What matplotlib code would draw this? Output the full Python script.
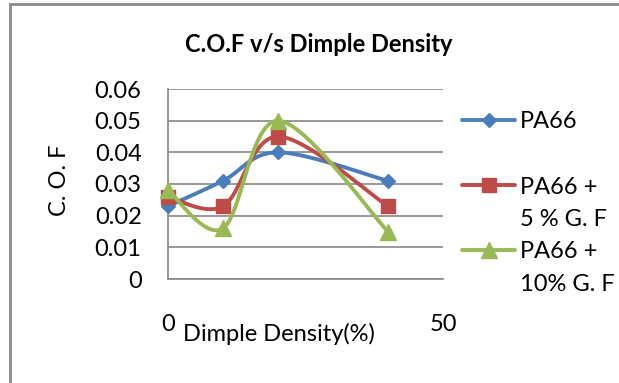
import numpy as np
import matplotlib
matplotlib.use("Agg")
import matplotlib.pyplot as plt
from matplotlib.lines import Line2D
from matplotlib.patches import Rectangle

plt.rcParams['font.family'] = ['Lato', 'DejaVu Sans']

# Data
density = [0, 10, 20, 40]
cof_pa66 = [0.023, 0.031, 0.040, 0.031]
cof_gf5 = [0.026, 0.023, 0.045, 0.023]
cof_gf10 = [0.028, 0.016, 0.050, 0.015]

series_labels = ["PA66", "PA66 +\n5 % G. F", "PA66 +\n10% G. F"]
series_colors = ["#4A7EBB", "#BE4B48", "#98B954"]
series_markers = ["D", "s", "^"]
marker_sizes = [7.5, 10, 11]

GRID = "#868686"
FS = 17


def excel_smooth(ax, xs, ys, n=40):
    """Bezier smoothing like Excel's 'smoothed line', done in pixel space."""
    pts = ax.transData.transform(np.column_stack([xs, ys]))
    out = [pts[:1]]
    for i in range(len(pts) - 1):
        p0 = pts[i - 1] if i > 0 else pts[i]
        p1, p2 = pts[i], pts[i + 1]
        p3 = pts[i + 2] if i + 2 < len(pts) else pts[i + 1]
        c1 = p1 + (p2 - p0) / 6
        c2 = p2 - (p3 - p1) / 6
        t = np.linspace(0, 1, n)[1:, None]
        seg = ((1 - t) ** 3 * p1 + 3 * (1 - t) ** 2 * t * c1
               + 3 * (1 - t) * t ** 2 * c2 + t ** 3 * p2)
        out.append(seg)
    return ax.transData.inverted().transform(np.vstack(out))


fig = plt.figure(figsize=(6.19, 3.83), dpi=100)
W, H = 619, 383

# outer chart frame (only left/top edges visible in the crop)
fig.add_artist(Rectangle((9.5 / W, -0.2), 1.5, 1.2 - 4 / H, transform=fig.transFigure,
                         fill=False, edgecolor="#8c8c8c", linewidth=2))

ax = fig.add_axes([168 / W, 1 - 279 / H, (443 - 168) / W, (279 - 89) / H])
ax.set_xlim(0, 50)
ax.set_ylim(0, 0.06)
ax.set_yticks(np.arange(0, 0.061, 0.01))
ax.set_yticklabels(["0", "0.01", "0.02", "0.03", "0.04", "0.05", "0.06"])
ax.set_xticks([0, 50])
ax.set_xticklabels(["0", "50"])
ax.tick_params(axis="both", length=0, labelsize=FS)
ax.tick_params(axis="y", pad=19)
ax.tick_params(axis="x", pad=25)
ax.grid(axis="y", color=GRID, linewidth=1.2)
ax.set_axisbelow(True)
for side in ["top", "right"]:
    ax.spines[side].set_visible(False)
for side in ["left", "bottom"]:
    ax.spines[side].set_color(GRID)
    ax.spines[side].set_linewidth(1.2)

all_series = [cof_pa66, cof_gf5, cof_gf10]
for k, ys in enumerate(all_series):
    curve = excel_smooth(ax, density, ys)
    ax.plot(curve[:, 0], curve[:, 1], color=series_colors[k], linewidth=2.8,
            solid_capstyle="round", zorder=3 + 2 * k, clip_on=False)
    ax.plot(density, ys, linestyle="none", marker=series_markers[k],
            markersize=marker_sizes[k], color=series_colors[k],
            zorder=4 + 2 * k, clip_on=False)

fig.text(319 / W, 1 - 44 / H, "C.O.F v/s Dimple Density", ha="center", va="center",
         fontsize=FS, fontweight="bold")
fig.text(60 / W, 1 - 180 / H, "C. O. F", rotation=90, ha="center", va="center", fontsize=FS)
fig.text(279 / W, 1 - 334 / H, "Dimple Density(%)", ha="center", va="center", fontsize=FS)

# legend drawn by hand to match the Excel layout
leg_rows = [120, 185, 250]
line_step = 32.5
for k, yrow in enumerate(leg_rows):
    yf = 1 - yrow / H
    fig.add_artist(Line2D([462 / W, 515 / W], [yf, yf], transform=fig.transFigure,
                          color=series_colors[k], linewidth=2.8, solid_capstyle="round"))
    fig.add_artist(Line2D([488.5 / W], [yf], transform=fig.transFigure, linestyle="none",
                          marker=series_markers[k], markersize=marker_sizes[k],
                          color=series_colors[k]))
    for j, part in enumerate(series_labels[k].split("\n")):
        fig.text(520 / W, 1 - (yrow + j * line_step) / H, part, ha="left",
                 va="center_baseline", fontsize=FS)

fig.savefig("out.png", dpi=100)
